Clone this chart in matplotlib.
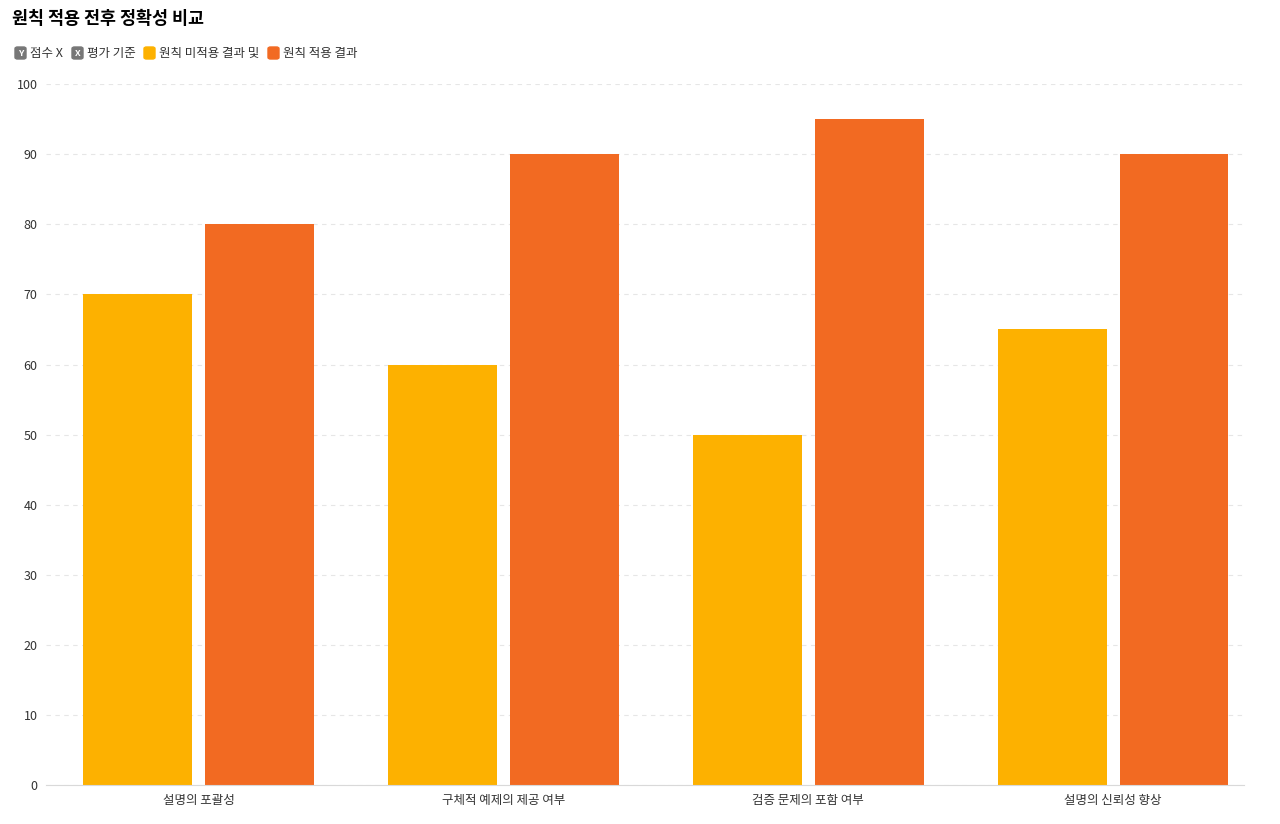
import matplotlib.pyplot as plt
from matplotlib.patches import FancyBboxPatch
import numpy as np

plt.rcParams['font.family'] = ['Noto Sans CJK KR', 'DejaVu Sans']

categories = ['설명의 포괄성', '구체적 예제의 제공 여부', '검증 문제의 포함 여부', '설명의 신뢰성 향상']
before = [70, 60, 50, 65]
after = [80, 90, 95, 90]
yellow = '#FDB100'
orange = '#F26A22'

fig = plt.figure(figsize=(12.8, 8.24), dpi=100)
ax = fig.add_axes([0.036, 0.047, 0.936, 0.851])

x = np.arange(len(categories))
w = 0.357
ax.bar(x - 0.2, before, w, color=yellow)
ax.bar(x + 0.2, after, w, color=orange)

ax.set_xlim(-0.5, len(categories) - 0.57)
ax.set_ylim(0, 100)
ax.set_yticks(range(0, 101, 10))
ax.set_xticks(x)
ax.set_xticklabels(categories)
ax.tick_params(axis='both', length=0, labelsize=9, colors='#333333', pad=6)
ax.yaxis.grid(True, color='#e6e6e6', linestyle=(0, (4, 4)), linewidth=0.8)
ax.set_axisbelow(True)
for s in ['top', 'right', 'left']:
    ax.spines[s].set_visible(False)
ax.spines['bottom'].set_color('#d9d9d9')

fig.text(12 / 1280, 1 - 19 / 824, '원칙 적용 전후 정확성 비교', fontsize=12.5,
         fontweight='bold', va='center', ha='left')

# legend row
y_leg = 1 - 53 / 824
items = [('Y', '#777777', '점수 X', 15), ('X', '#777777', '평가 기준', 72),
         (None, yellow, '원칙 미적용 결과 및', 144), (None, orange, '원칙 적용 결과', 268)]
for badge, col, label, px in items:
    fig.patches.append(FancyBboxPatch((px / 1280, y_leg - 6 / 824), 11 / 1280, 12 / 824,
                                      boxstyle='round,pad=0,rounding_size=0.002',
                                      transform=fig.transFigure, color=col))
    if badge:
        fig.text((px + 5.5) / 1280, y_leg, badge, fontsize=6.5, color='white',
                 fontweight='bold', ha='center', va='center')
    fig.text((px + 15) / 1280, y_leg, label, fontsize=9, color='#333333', va='center')

fig.savefig('out.png', dpi=100)
